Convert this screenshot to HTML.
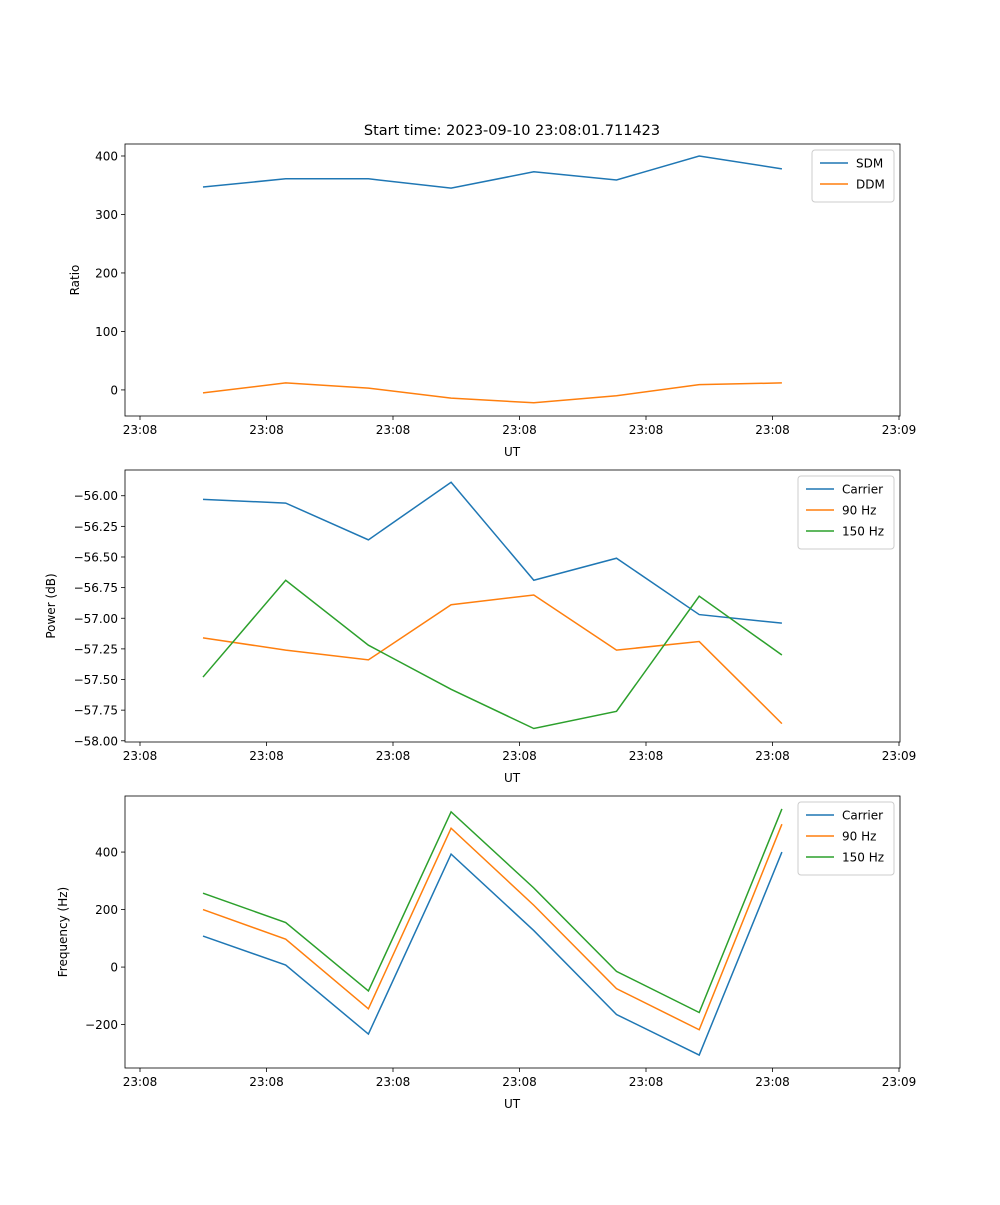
<!DOCTYPE html>
<html><head><meta charset="utf-8"><style>
body{margin:0;background:#fff;font-family:"Liberation Sans","DejaVu Sans",sans-serif;}
svg text{font-family:"DejaVu Sans","Liberation Sans",sans-serif;font-size:12px;fill:#000;}
</style></head><body>
<svg id="fig" width="1000" height="1200"></svg>
<script>
const xTickLabels=["23:08","23:08","23:08","23:08","23:08","23:08","23:09"];
const xIdx=[0,1,2,3,4,5,6,7];
const sdm=[347,361,361,345,373,359,400,378];
const ddm=[-5,12,3,-14,-22,-10,9,12];
const pCarrier=[-56.03,-56.06,-56.36,-55.89,-56.69,-56.51,-56.97,-57.04];
const p90=[-57.16,-57.26,-57.34,-56.89,-56.81,-57.26,-57.19,-57.86];
const p150=[-57.48,-56.69,-57.22,-57.58,-57.90,-57.76,-56.82,-57.30];
const fCarrier=[108,7,-233,393,127,-165,-306,400];
const f90=[200,97,-145,483,215,-75,-218,497];
const f150=[257,155,-83,540,275,-15,-158,550];
const yTicks1=[0,100,200,300,400];
const yTicks2=[-58.00,-57.75,-57.50,-57.25,-57.00,-56.75,-56.50,-56.25,-56.00];
const yTicks3=[-200,0,200,400];
const NS="http://www.w3.org/2000/svg";
const svg=document.getElementById('fig');
function mk(t,a,p){const e=document.createElementNS(NS,t);for(const k in a)e.setAttribute(k,a[k]);(p||svg).appendChild(e);return e;}
const X0=125,X1=900;
function xp(i){return 203+i*82.7;}
const colors=["#1f77b4","#ff7f0e","#2ca02c"];
const minus=s=>s.replace('-','\u2212');
function panel(name,top,ymin,ymax,yt,fmt,series,names,ylabel,legW){
  const bot=top+272;
  const g=mk('g',{});
  
  
  const ys=v=>bot-(v-ymin)/(ymax-ymin)*272;
  xTickLabels.forEach((l,i)=>{const x=140+i*126.5;
    mk('line',{x1:x,x2:x,y1:bot,y2:bot+4,stroke:'#000','stroke-width':0.8},g);
    const t=mk('text',{x:x,y:bot+18,'text-anchor':'middle'},g);t.textContent=l;
    });
  yt.forEach(v=>{const y=ys(v);
    mk('line',{x1:X0-4,x2:X0,y1:y,y2:y,stroke:'#000','stroke-width':0.8},g);
    const t=mk('text',{x:X0-7,y:y+4.5,'text-anchor':'end'},g);t.textContent=minus(fmt(v));
    });
  series.forEach((s,k)=>{
    const p=mk('polyline',{points:s.map((v,i)=>xp(xIdx[i])+','+ys(v)).join(' '),fill:'none',stroke:colors[k],'stroke-width':1.5},g);
    
    
  });
  mk('rect',{x:X0,y:top,width:X1-X0,height:272,fill:'none',stroke:'#000','stroke-width':0.8},g);
  const xl=mk('text',{x:512,y:bot+40,'text-anchor':'middle'},g);xl.textContent='UT';
  
  const lx=ylabel[1];
  const yl=mk('text',{x:lx,y:top+136,'text-anchor':'middle',transform:`rotate(-90 ${lx} ${top+136})`},g);yl.textContent=ylabel[0];
  
  const lg=mk('g',{},g);
  
  const lx0=X1-6-legW;
  mk('rect',{x:lx0,y:top+6,width:legW,height:10+names.length*21,rx:3,fill:'#fff',stroke:'#ccc'},lg);
  names.forEach((n,k)=>{const y=top+19+k*21;
    mk('line',{x1:lx0+8,x2:lx0+36,y1:y,y2:y,stroke:colors[k],'stroke-width':1.5},lg);
    const t=mk('text',{x:lx0+44,y:y+4.5},lg);t.textContent=n;
    });
}
const title=mk('text',{x:512,y:135,'text-anchor':'middle',style:'font-size:14.5px'});
title.textContent='Start time: 2023-09-10 23:08:01.711423';

panel('ratio-panel',144,-44.6,420.5,yTicks1,v=>String(v),[sdm,ddm],['SDM','DDM'],['Ratio',79],82);
panel('power-panel',470,-58.01,-55.79,yTicks2,v=>v.toFixed(2),[pCarrier,p90,p150],['Carrier','90 Hz','150 Hz'],['Power (dB)',55],96);
panel('frequency-panel',796,-351,595,yTicks3,v=>String(v),[fCarrier,f90,f150],['Carrier','90 Hz','150 Hz'],['Frequency (Hz)',67],96);
</script>
</body></html>
